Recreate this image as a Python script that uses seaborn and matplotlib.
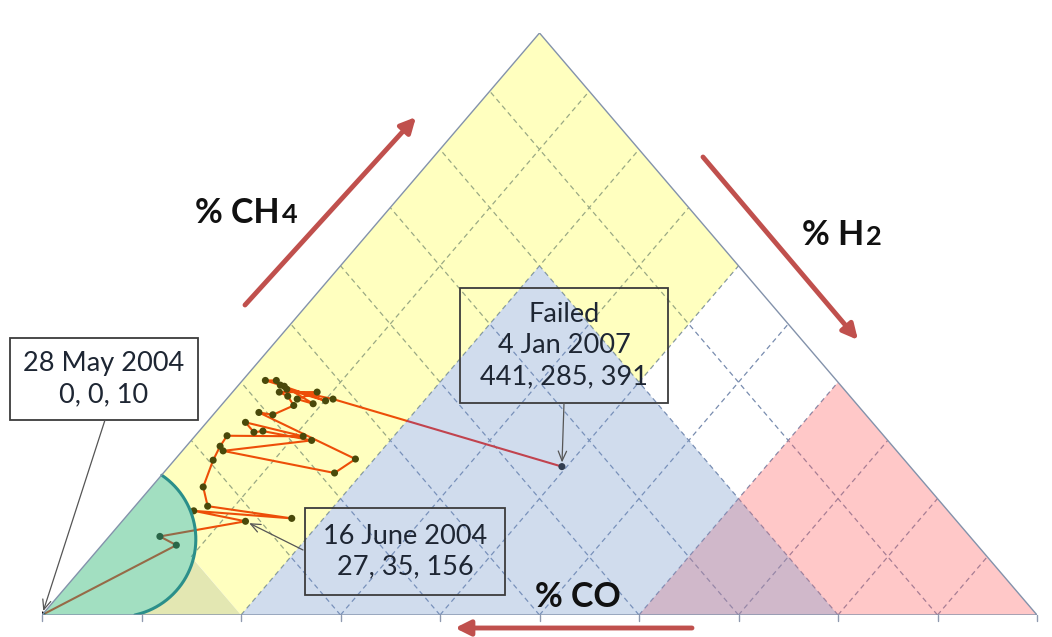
import numpy as np
import pandas as pd
import matplotlib
matplotlib.use('Agg')
import matplotlib.pyplot as plt
from matplotlib.patches import Polygon, Rectangle
import seaborn as sns

h2_pct = [0.0, 7.5, 5.1, 12.4, 6.3, 16.8, 7.3, 5.2, 3.9, 3.4, 3.2, 10.9, 3.9, 5.6,
          6.4, 12.1, 4.1, 17.2, 18.1, 4.4, 6.0, 7.3, 5.9, 4.7, 8.5, 7.1, 9.1, 4.7,
          2.3, 3.4, 4.2, 10.1, 5.2, 10.7, 39.5]
ch4_pct = [0.0, 12.0, 13.5, 16.1, 17.9, 16.6, 18.7, 22.0, 26.6, 29.0, 30.8, 30.7,
           33.1, 31.4, 31.6, 30.0, 28.2, 24.4, 26.8, 34.8, 34.4, 36.0, 37.6, 38.3,
           38.3, 37.1, 36.3, 39.3, 40.3, 40.3, 39.5, 36.8, 38.8, 37.1, 25.5]

# labelled samples: index in the series, date, raw H2, CH4, CO
label_idx = [0, 3, 34]
label_date = ['28 May 2004', '16 June 2004', 'Failed\n4 Jan 2007']
label_vals = ['0, 0, 10', '27, 35, 156', '441, 285, 391']

sns.set_style('white')
plt.rcParams['font.family'] = ['Lato', 'DejaVu Sans']

fig = plt.figure(figsize=(10.52, 6.37), dpi=100)
ax = fig.add_axes([42/1052, 22/637, 995/1052, 582/637])
ax.set_xlim(0, 1)
ax.set_ylim(0, 1)


def tern(h2, ch4):
    # H2 toward bottom right, CH4 toward the apex, CO toward bottom left
    return h2 + ch4 / 2, ch4


def px(x, y):
    # layout helper: picture pixel -> axes units
    return (x - 42) / 995, (615 - y) / 582


df = pd.DataFrame({'H2': h2_pct, 'CH4': ch4_pct})
df['CO'] = 100 - df['H2'] - df['CH4']
df['x'] = df['H2'] / 100 + df['CH4'] / 200
df['y'] = df['CH4'] / 100

# dashed grid every 10 %
gridc = '#788caf'
for k in np.arange(1, 10) / 10:
    start = max(0.0, 0.2 - k)
    p0, p1 = tern(k, start), tern(k, 1 - k)
    ax.plot([p0[0], p1[0]], [p0[1], p1[1]], ls=(0, (4, 3)), color=gridc, lw=0.9, zorder=1)
for k in np.arange(1, 8) / 10:
    p0, p1 = tern(1 - k, 0), tern(0, 1 - k)
    ax.plot([p0[0], p1[0]], [p0[1], p1[1]], ls=(0, (4, 3)), color=gridc, lw=0.9, zorder=1)

sns.lineplot(data=df, x='x', y='y', sort=False, estimator=None, color='#e8140a',
             lw=1.5, zorder=2, ax=ax)
sns.scatterplot(data=df, x='x', y='y', color='#0d0d0d', s=26, edgecolor='none',
                zorder=3, ax=ax)

# curved boundary of the green zone
cx, cy, rx, ry = 0.0768, 0.130, 0.0778, 0.133
th = np.radians(np.linspace(80, -100, 800))
arc_x = cx + rx * np.cos(th)
arc_y = cy + ry * np.sin(th)
inside = (arc_y >= 0) & (arc_y <= 2 * arc_x)
arc = np.column_stack([arc_x[inside], arc_y[inside]])
s = arc[:, 0] + arc[:, 1] / 2
arc_up, arc_low = arc[s > 0.2], arc[s <= 0.2]

pink = [tern(.6, 0), tern(1, 0), tern(.6, .4)]
blue = [tern(.2, 0), tern(.8, 0), tern(.2, .6)]
yellow = [tern(.2, 0), tern(.2, .6), tern(.4, .4), tern(.4, .6), tern(0, 1)] + [tuple(p) for p in arc_up]
khaki = [tuple(p) for p in arc_low] + [tern(.2, 0)]
green = [(0, 0)] + [tuple(p) for p in arc]

ax.add_patch(Polygon(pink, fc=(1, 98/255, 98/255), alpha=0.35, lw=0, zorder=4))
ax.add_patch(Polygon(blue, fc='#799bce', alpha=0.35, lw=0, zorder=4.1))
ax.add_patch(Polygon(yellow, fc=(1, 1, 0.01), alpha=0.25, lw=0, zorder=4.2))
ax.add_patch(Polygon(khaki, fc='#e3e7b2', lw=0, zorder=4.3))
ax.add_patch(Polygon(green, fc=(70/255, 192/255, 132/255), alpha=0.5, lw=0, zorder=4.4))
ax.plot(arc[:, 0], arc[:, 1], color='#2b8f8a', lw=2.2, zorder=5)

ax.add_patch(Polygon([(0, 0), (1, 0), (0.5, 1)], fill=False, ec='#8392ab', lw=1, zorder=6))
for t in np.linspace(0, 1, 11):
    ax.plot([t, t], [0, -0.011], color='#8f9ab0', lw=1, clip_on=False, zorder=6)

# direction arrows of the three axes
for a, b in [((245, 305), (416, 117)), ((703, 157), (858, 340)), ((692, 628), (455, 628))]:
    ax.annotate('', xy=px(*b), xytext=px(*a), annotation_clip=False,
                arrowprops=dict(arrowstyle='-|>,head_length=0.9,head_width=0.45',
                                color='#c0504d', lw=3.5, shrinkA=0, shrinkB=0))

# axis names, with the small digit set just after the letters
lab = dict(fontweight='bold', ha='left', va='baseline', color='#111111', zorder=8)
names = [((195, 223), '% CH', '4'), ((802, 245), '% H', '2'), ((535, 607), '% CO', '')]
fig.canvas.draw()
for pos, main, sub in names:
    t = ax.text(*px(*pos), main, fontsize=24.5, **lab)
    if sub:
        bb = t.get_window_extent(renderer=fig.canvas.get_renderer())
        xe = ax.transData.inverted().transform((bb.x1 + 2, 0))[0]
        ax.text(xe, px(*pos)[1], sub, fontsize=19.5, **lab)

# callout boxes
boxes = [(10, 338, 198, 420), (305, 508, 505, 595), (460, 288, 668, 403)]
tails = [(105, 420), (303, 550), (564, 403)]
for i, (x0, y0, x1, y1), tail, date, vals in zip(label_idx, boxes, tails, label_date, label_vals):
    lx, ly = px(x0, y1)
    w, h = (x1 - x0) / 995, (y1 - y0) / 582
    ax.add_patch(Rectangle((lx, ly), w, h, fill=False, ec='#3c3c3c', lw=1.3,
                           clip_on=False, zorder=7))
    ax.text(lx + w / 2, ly + h / 2, date + '\n' + vals, fontsize=19.5, ha='center',
            va='center', linespacing=1.3, color='#1e2633', zorder=8)
    ax.annotate('', xy=(df['x'][i], df['y'][i]), xytext=px(*tail), annotation_clip=False,
                arrowprops=dict(arrowstyle='->,head_length=0.7,head_width=0.3',
                                color='#555555', lw=0.9, shrinkA=0, shrinkB=3), zorder=7)

ax.set_xlim(0, 1)
ax.set_ylim(0, 1)
ax.axis('off')
fig.savefig('out.png', dpi=100)
